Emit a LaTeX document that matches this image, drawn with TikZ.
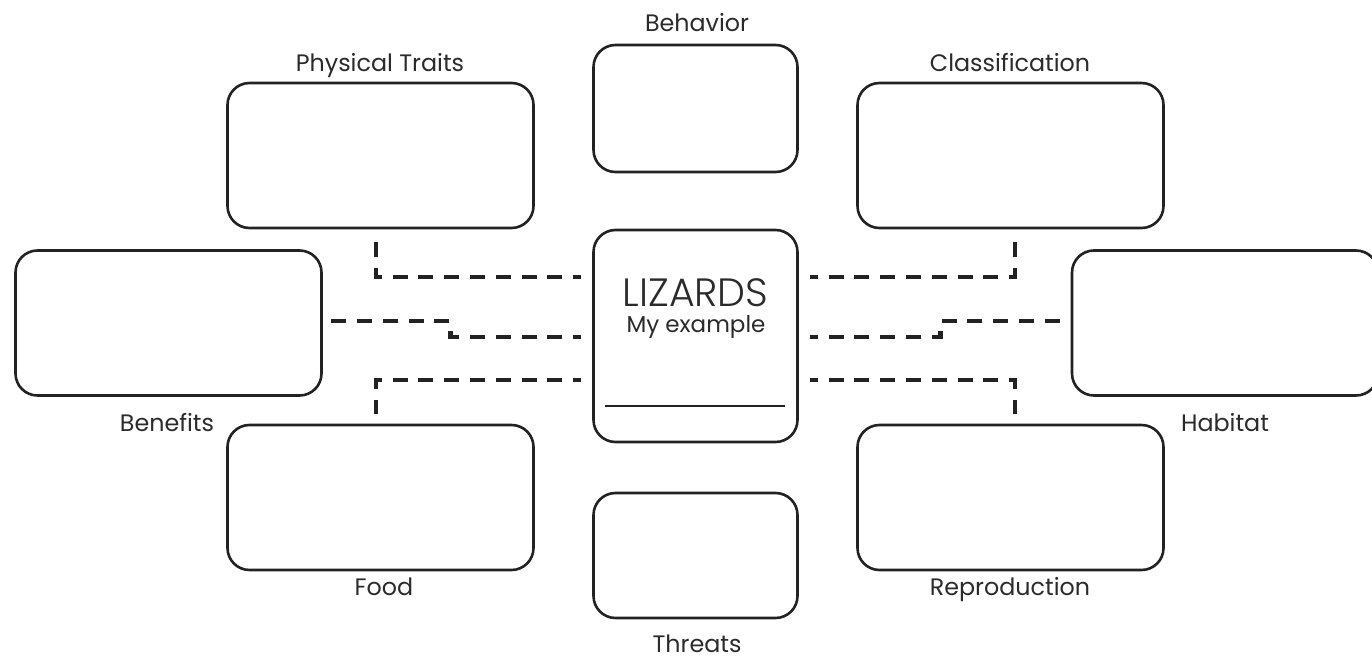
\documentclass[tikz,border=0pt]{standalone}
\usepackage{fontspec}
\setmainfont{Poppins}
\newfontfamily\lightfont{Poppins Light}
\usetikzlibrary{calc}
\definecolor{ink}{HTML}{222222}
\definecolor{txt}{HTML}{2B2B2B}
\tikzset{
  card/.style={draw=ink, line width=2.6pt, rounded corners=22pt, inner sep=0pt, fill=white},
  wide/.style={card, minimum width=306pt, minimum height=145pt},
  narrow/.style={card, minimum width=204pt, minimum height=127pt},
  caption/.style={text=txt, font=\fontsize{23.8}{28}\selectfont, anchor=base, inner sep=0pt},
  link/.style={draw=ink, line width=4.8pt, dash pattern=on 15pt off 10.8pt, dash phase=7pt, line join=miter, line cap=butt}
}
\begin{document}
\begin{tikzpicture}[x=1pt, y=-1pt]
  \useasboundingbox (0,0) rectangle (1372,660);
  \clip (0,0) rectangle (1372,660);
  \fill[white] (0,0) rectangle (1372,660);

  % topic boxes
  \node[wide] (phys) at (380.5,155.5) {};
  \node[narrow] (beh) at (695.5,108.5) {};
  \node[wide] (cls) at (1010.5,155.5) {};
  \node[wide] (ben) at (168.5,323) {};
  \node[wide] (hab) at (1225,323) {};
  \node[wide] (food) at (380.5,497.5) {};
  \node[narrow, minimum height=125pt] (thr) at (695.5,555.5) {};
  \node[wide] (rep) at (1010.5,497.5) {};

  % central card
  \node[card, minimum width=204pt, minimum height=212pt] (liz) at (695.5,336) {};
  \node[text=txt, anchor=base, inner sep=0pt, font=\lightfont\fontsize{39.5}{44}\selectfont] (lizt) at (695.5,306) {LIZARDS};
  \node[caption, font=\fontsize{23}{27}\selectfont] (lizs) at (696,332) {My example};
  \draw[draw=ink, line width=2pt] ([shift={(13,-37)}]liz.south west) -- ([shift={(-14,-37)}]liz.south east);

  % captions
  \node[caption] (lphys) at (380,72) {Physical Traits};
  \node[caption] (lbeh) at (697,32) {Behavior};
  \node[caption] (lcls) at (1010,72) {Classification};
  \node[caption] (lben) at (167,431) {Benefits};
  \node[caption] (lhab) at (1225,431) {Habitat};
  \node[caption] (lfood) at (384,595) {Food};
  \node[caption] (lrep) at (1010,595) {Reproduction};
  \node[caption] (lthr) at (697,652) {Threats};

  % dashed connectors, left side
  \draw[link] ([shift={(-11,-59)}]liz.west) -| ([shift={(-4.5,13)}]phys.south);
  \draw[link] ([shift={(-11,1)}]liz.west) -- ++(-131,0) |- ([shift={(6,-2)}]ben.east);
  \draw[link] ([shift={(-11,44)}]liz.west) -| ([shift={(-4.5,-10)}]food.north);

  % dashed connectors, right side
  \draw[link] ([shift={(11,-59)}]liz.east) -| ([shift={(4.5,13)}]cls.south);
  \draw[link] ([shift={(11,1)}]liz.east) -- ++(131,0) |- ([shift={(-9,-2)}]hab.west);
  \draw[link] ([shift={(11,44)}]liz.east) -| ([shift={(4.5,-10)}]rep.north);
\end{tikzpicture}
\end{document}
